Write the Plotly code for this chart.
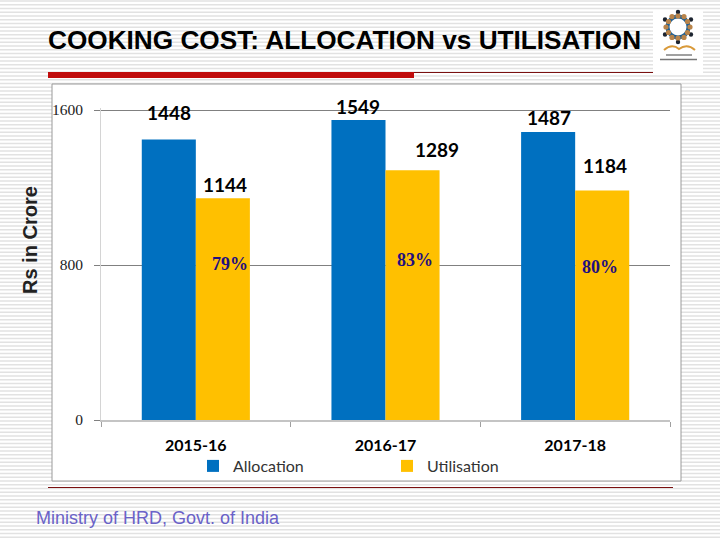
import math
import plotly.graph_objects as go

categories = ["2015-16", "2016-17", "2017-18"]
allocation = [1448, 1549, 1487]
utilisation = [1144, 1289, 1184]
percent_labels = ["79%", "83%", "80%"]
y_ticks = [0, 800, 1600]
title_text = "COOKING COST: ALLOCATION vs UTILISATION"
footer_text = "Ministry of HRD, Govt. of India"

W, H = 720, 540
def px(x): return x / W
def py(y): return 1 - y / H

shapes = []
def rect(x0, y0, x1, y1, fill, line=None, lw=0):
    shapes.append(dict(type="rect", xref="paper", yref="paper", x0=px(x0), x1=px(x1), y0=py(y0), y1=py(y1),
                       fillcolor=fill, line=dict(color=line or fill, width=lw), layer="below"))
def hline(x0, x1, y, color, lw):
    shapes.append(dict(type="line", xref="paper", yref="paper", x0=px(x0), x1=px(x1), y0=py(y), y1=py(y),
                       line=dict(color=color, width=lw), layer="below"))
def dot(cx, cy, r, color):
    shapes.append(dict(type="circle", xref="paper", yref="paper", x0=px(cx - r), x1=px(cx + r), y0=py(cy + r), y1=py(cy - r),
                       fillcolor=color, line=dict(width=0), layer="below"))

# striped slide background
y = 1.0
while y < H:
    hline(0, W, y, "#e2e2e2", 1.6)
    y += 3.75

# rules and chart panel
rect(48, 72, 414, 78, "#c00d0d")
hline(414, 655, 72.5, "#7a1010", 1)
hline(48, 673, 487.5, "#7a1010", 1)
rect(52, 84, 681, 481, "#ffffff", "#9a9a9a", 1)

# logo
rect(653, 11, 703, 74, "#ffffff")
cx, cy = 678, 27
dot(cx, cy, 12.5, "#1f5f92")
dot(cx, cy, 8.5, "#ffffff")
for k in range(6):
    a = math.radians(90 + 60 * k)
    dot(cx + 15 * math.cos(a), cy - 15 * math.sin(a), 2.2, "#1c2430")
    b = a + math.radians(30)
    dot(cx + 11 * math.cos(a), cy - 11 * math.sin(a), 2.6, "#b9844a")
    dot(cx + 12 * math.cos(b), cy - 12 * math.sin(b), 2.6, "#b9844a")
shapes.append(dict(type="path", xref="paper", yref="paper", layer="below",
                   path=f"M {px(664)} {py(50)} Q {px(672)} {py(43)} {px(679)} {py(49)} Q {px(687)} {py(43)} {px(695)} {py(50)}",
                   line=dict(color="#d99a3a", width=2)))
hline(666, 692, 55, "#777777", 1.4)
hline(660, 697, 59.5, "#777777", 1.4)

fig = go.Figure()
fig.add_bar(name="Allocation", x=categories, y=allocation, marker=dict(color="#0070c0", line=dict(width=0)))
fig.add_bar(name="Utilisation", x=categories, y=utilisation, marker=dict(color="#ffc000", line=dict(width=0)))

ann = []
label_font = dict(family="Lato, Carlito, sans-serif", size=19, color="#000000")
# (x shift in px, lift above the bar in px) per label
alloc_off = [(0, 27), (0, 13), (1, 14)]
util_off = [(2, 14), (24, 21), (3, 25)]
pct_y = [805, 826, 790]
pct_dx = [7, 2, -2]
for i in range(3):
    ann.append(dict(x=i - 0.1425, y=allocation[i], xref="x", yref="y", text=f"<b>{allocation[i]}</b>", showarrow=False,
                    xshift=alloc_off[i][0], yshift=alloc_off[i][1], yanchor="middle", font=label_font))
    ann.append(dict(x=i + 0.1425, y=utilisation[i], xref="x", yref="y", text=f"<b>{utilisation[i]}</b>", showarrow=False,
                    xshift=util_off[i][0], yshift=util_off[i][1], yanchor="middle", font=label_font))
    ann.append(dict(x=i + 0.1425, y=pct_y[i], xref="x", yref="y", text=f"<b>{percent_labels[i]}</b>", showarrow=False,
                    xshift=pct_dx[i], yanchor="middle", font=dict(family="Liberation Serif, serif", size=18, color="#1f0f7f")))

ann.append(dict(x=px(344.5), y=py(40), xref="paper", yref="paper", xanchor="center", yanchor="middle",
                text=f"<b>{title_text}</b>", showarrow=False,
                font=dict(family="Liberation Sans, Arial, sans-serif", size=26.2, color="#000000")))
ann.append(dict(x=px(30), y=py(240), xref="paper", yref="paper", xanchor="center", yanchor="middle",
                text="<b>Rs in Crore</b>", textangle=-90, showarrow=False,
                font=dict(family="Liberation Sans, Arial, sans-serif", size=20, color="#222222")))
ann.append(dict(x=px(158), y=py(518), xref="paper", yref="paper", xanchor="center", yanchor="middle",
                text=footer_text, showarrow=False,
                font=dict(family="Liberation Sans, Arial, sans-serif", size=18, color="#6a62c8")))

fig.update_layout(
    width=W, height=H, margin=dict(l=0, r=0, t=0, b=0, autoexpand=False),
    paper_bgcolor="#ffffff", plot_bgcolor="rgba(0,0,0,0)",
    barmode="group", bargap=0.43, bargroupgap=0,
    shapes=shapes, annotations=ann,
    legend=dict(orientation="h", x=px(193), y=py(466), xanchor="left", yanchor="middle",
                entrywidth=149, entrywidthmode="pixels", bgcolor="rgba(0,0,0,0)",
                font=dict(family="Lato, sans-serif", size=16, color="#333333")),
    xaxis=dict(domain=[px(101), px(670)], tickson="boundaries", ticks="outside", ticklen=5, tickcolor="#a0a0a0",
               showgrid=False, showline=True, linecolor="#c4c4c4", linewidth=2, zeroline=False,
               tickfont=dict(family="Lato, sans-serif", size=16, color="#000000"), ticklabelstandoff=10),
    yaxis=dict(domain=[py(420), py(108.06)], range=[0, 1610], tickmode="array", tickvals=y_ticks,
               ticks="outside", ticklen=6, tickcolor="#808080", showgrid=True, gridcolor="#808080", gridwidth=1,
               showline=True, linecolor="#d4d4d4", linewidth=1, zeroline=False, ticklabelstandoff=8,
               tickfont=dict(family="Liberation Serif, serif", size=15.5, color="#222222")),
)
# bold category labels
fig.update_xaxes(ticktext=[f"<b>{c}</b>" for c in categories], tickvals=categories, tickmode="array")
fig.write_html("out.html", config=dict(displayModeBar=False),
               post_script="document.body.style.margin='0';")
